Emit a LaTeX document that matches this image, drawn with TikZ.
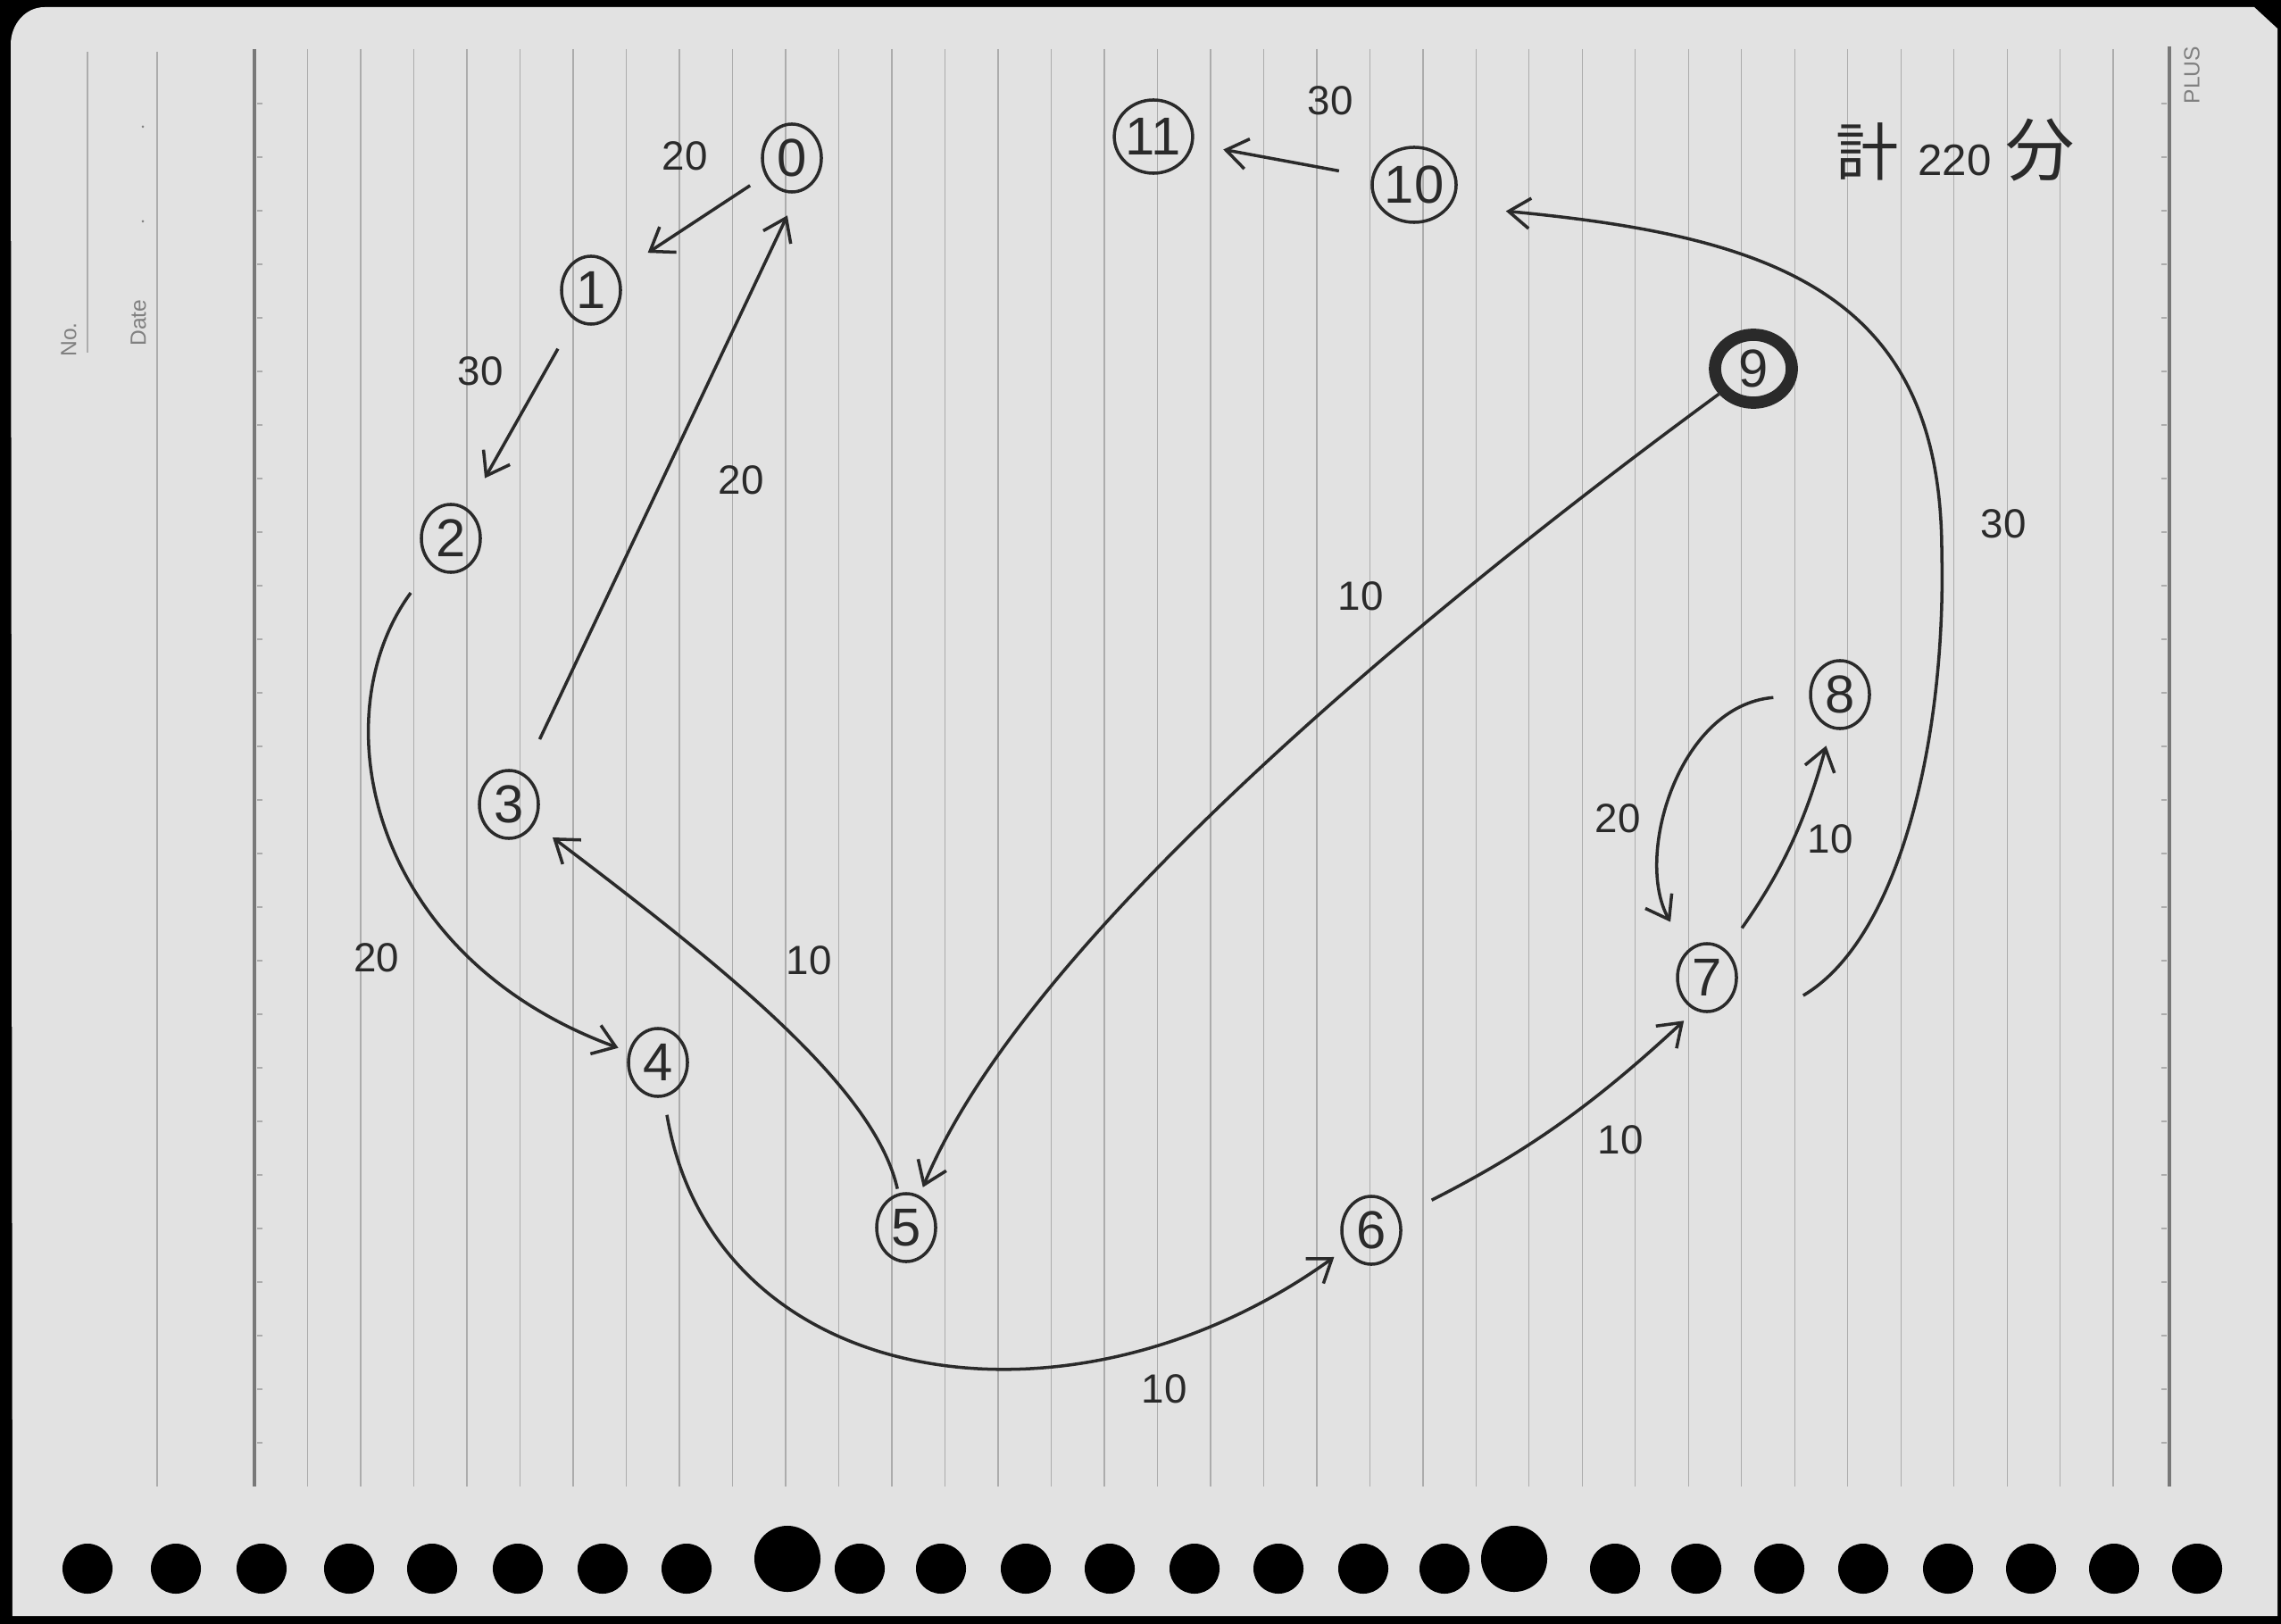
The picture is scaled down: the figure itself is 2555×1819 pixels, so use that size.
\documentclass[tikz,border=0pt]{standalone}
\usepackage{fontspec}
\setmainfont{Liberation Sans}
\newfontfamily\cjkfont{Noto Sans CJK JP}
\usetikzlibrary{arrows.meta,shapes.geometric}
\definecolor{paper}   {RGB}{226,226,226}
\definecolor{pencil}  {RGB}{42,42,42}
\definecolor{rulegray}{RGB}{172,172,172}
\definecolor{margray} {RGB}{120,120,120}
\tikzset{
  vnode/.style    ={ellipse, draw=pencil, line width=1pt, inner sep=0pt,
                    minimum width=0.66cm, minimum height=0.76cm,
                    font=\fontsize{17}{17}\selectfont, text=pencil},
  goalnode/.style ={vnode, line width=3.9pt, minimum width=0.86cm,
                    minimum height=0.76cm},
  wlabel/.style   ={font=\fontsize{13}{13}\selectfont, text=pencil},
  earr/.style     ={-{Straight Barb[length=0.24cm,width=0.34cm]},
                    line width=1pt, draw=pencil},
  ruleline/.style ={draw=rulegray, line width=0.4pt},
  marline/.style  ={draw=margray, line width=0.9pt},
  ptext/.style    ={font=\fontsize{7}{7}\selectfont, text=gray, rotate=90},
}
\begin{document}
\begin{tikzpicture}[x=0.01cm, y=-0.01cm]
  \useasboundingbox (0,0) rectangle (2555,1819);
  %% notebook sheet
  \fill[black] (0,0) rectangle (2555,1819);
  \fill[paper] (14,1810) -- (12,50) to[out=90, in=180] (50,8)
        -- (2525,8) -- (2551,32) -- (2551,1810) -- cycle;
  \foreach \k in {1,...,35}
    \draw[ruleline] ({285+59.49*\k},55) -- ++(0,1610);
  \draw[marline] (285,55) -- (285,1665);
  \draw[marline] (2430,52) -- (2430,1665);
  \draw[ruleline] (176,58) -- (176,1665);
  \draw[ruleline] (98,58) -- (98,395);
  \foreach \j in {0,...,25} {
    \draw[ruleline] (288,{116+60*\j}) -- ++(6,0);
    \draw[ruleline] (2427,{116+60*\j}) -- ++(-6,0);
  }
  \fill[gray] (160,142) circle (0.015cm) (160,248) circle (0.015cm);
  \node[ptext, anchor=west] (no)   at (77,412)  {No.};
  \node[ptext, anchor=west] (date) at (155,400) {Date};
  \node[ptext] (plus) at (2455,84) {PLUS};
  \foreach \hx in {98,197,293,391,484,580,675,769,963,1054,1149,1243,
                   1338,1432,1527,1618,1809,1900,1993,2087,2182,2275,2368,2461}
    \fill[black] (\hx,1757) circle (0.28cm);
  \fill[black] (882,1746) circle (0.37cm) (1696,1746) circle (0.37cm);

  %% vertices
  \node[vnode] (n0)  at (887,177)   {0};
  \node[vnode] (n1)  at (662,325)   {1};
  \node[vnode] (n2)  at (505,603)   {2};
  \node[vnode] (n3)  at (570,901)   {3};
  \node[vnode] (n4)  at (737,1190)  {4};
  \node[vnode] (n5)  at (1015,1375) {5};
  \node[vnode] (n6)  at (1536,1378) {6};
  \node[vnode] (n7)  at (1912,1095) {7};
  \node[vnode] (n8)  at (2061,778)  {8};
  \node[goalnode] (n9) at (1964,413) {9};
  \node[vnode, minimum width=0.92cm, minimum height=0.84cm] (n10) at (1584,207) {10};
  \node[vnode, minimum width=0.8cm, minimum height=0.82cm]  (n11) at (1292,153) {11};

  %% total
  \node[text=pencil] (total) at (2190,168)
        {{\cjkfont\fontsize{20}{20}\selectfont 計}\hspace{0.22cm}%
         {\fontsize{14}{14}\selectfont 220}\hspace{0.16cm}%
         {\cjkfont\fontsize{22}{22}\selectfont 分}};

  %% weights
  \node[wlabel] (w01)  at (767,175)   {20};
  \node[wlabel] (w12)  at (538,416)   {30};
  \node[wlabel] (w30)  at (830,538)   {20};
  \node[wlabel] (w24)  at (422,1073)  {20};
  \node[wlabel] (w53)  at (906,1076)  {10};
  \node[wlabel] (w95)  at (1524,668)  {10};
  \node[wlabel] (w46)  at (1304,1556) {10};
  \node[wlabel] (w67)  at (1815,1277) {10};
  \node[wlabel] (w78)  at (2050,940)  {10};
  \node[wlabel] (w87)  at (1812,917)  {20};
  \node[wlabel] (w710) at (2244,587)  {30};
  \node[wlabel] (w1011) at (1490,113) {30};

  %% edges
  \draw[earr, shorten <=0.2cm, shorten >=0.4cm] (n0) -- (n1);
  \draw[earr, shorten <=0.37cm, shorten >=0.39cm] (n1) -- (n2);
  \draw[earr, shorten <=0.38cm, shorten >=0.12cm]
        (n2) .. controls (360,800) and (410,1070) .. (n4);
  \draw[earr, shorten <=0.42cm, shorten >=0.28cm] (n3) -- (n0.-80);
  \draw[earr, shorten <=0.05cm, shorten >=0.25cm]
        (n5) .. controls (980,1220) and (820,1090) .. (n3);
  \draw[earr, shorten >=0.1cm]
        (n9) .. controls (1600,680) and (1150,1050) .. (n5);
  \draw[earr, shorten <=0.2cm, shorten >=0.15cm]
        (n4) .. controls (800,1560) and (1200,1620) .. (n6);
  \draw[earr, shorten <=0.4cm, shorten >=0.17cm] (n6) to[bend right=8] (n7.250);
  \draw[earr, shorten <=0.3cm, shorten >=0.2cm] (n7) to[bend right=10] (n8);
  \draw[earr, shorten <=0.4cm, shorten >=0.37cm]
        (n8.west) .. controls (1880,790) and (1830,960) .. (n7.127);
  \draw[earr, shorten >=0.62cm]
        ([shift={(0.73cm,-0.2cm)}]n7.east) .. controls (2130,1050) and (2180,820)
        .. (2175,619) .. controls (2175,330) and (1990,265) .. (n10.-30);
  \draw[earr, shorten <=0.37cm, shorten >=0.34cm] (n10) -- (n11);
\end{tikzpicture}
\end{document}
